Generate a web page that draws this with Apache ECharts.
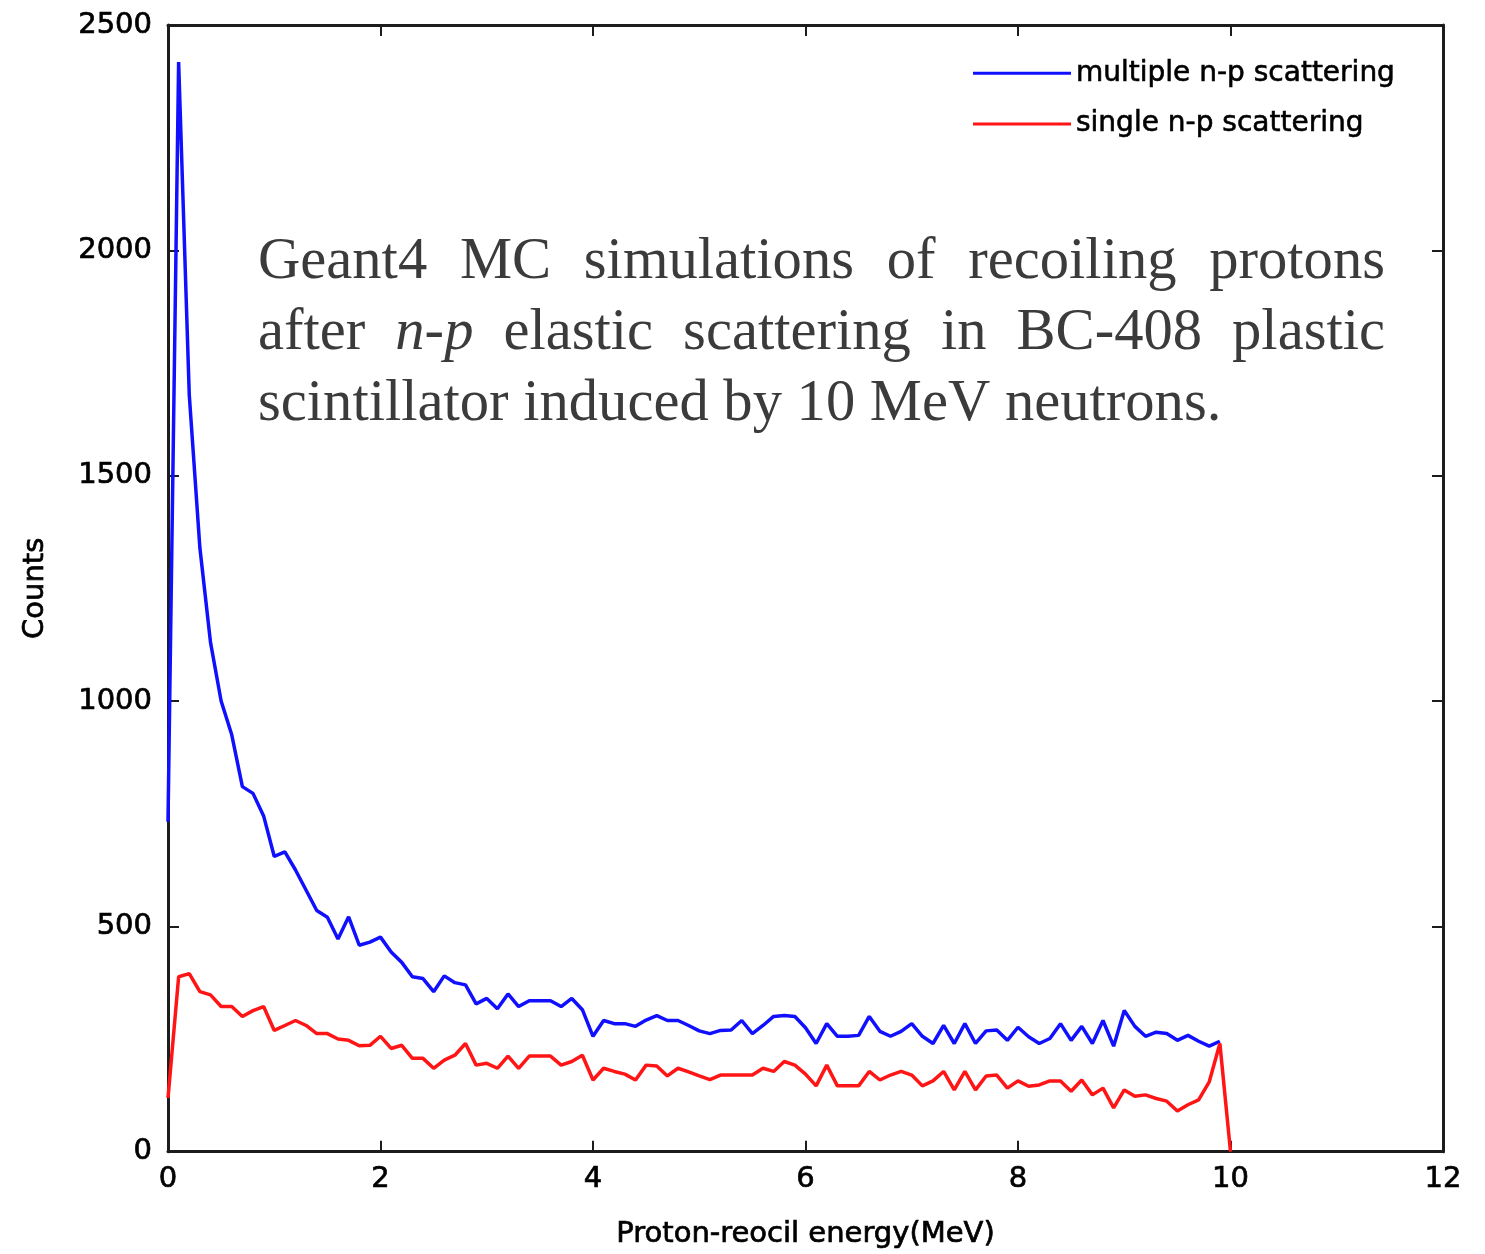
<!DOCTYPE html>
<html><head><meta charset="utf-8">
<script src="https://cdn.jsdelivr.net/npm/echarts@6/dist/echarts.min.js"></script>
<style>html,body{margin:0;padding:0;background:#fff}#c{width:1485px;height:1254px}</style>
</head><body><div id="c"></div>
<script>
// ---- data ----
const energies = [
  0.0,0.1,0.2,0.3,0.4,0.5,0.6,0.7,0.8,0.9,
  1.0,1.1,1.2,1.3,1.4,1.5,1.6,1.7,1.8,1.9,
  2.0,2.1,2.2,2.3,2.4,2.5,2.6,2.7,2.8,2.9,
  3.0,3.1,3.2,3.3,3.4,3.5,3.6,3.7,3.8,3.9,
  4.0,4.1,4.2,4.3,4.4,4.5,4.6,4.7,4.8,4.9,
  5.0,5.1,5.2,5.3,5.4,5.5,5.6,5.7,5.8,5.9,
  6.0,6.1,6.2,6.3,6.4,6.5,6.6,6.7,6.8,6.9,
  7.0,7.1,7.2,7.3,7.4,7.5,7.6,7.7,7.8,7.9,
  8.0,8.1,8.2,8.3,8.4,8.5,8.6,8.7,8.8,8.9,
  9.0,9.1,9.2,9.3,9.4,9.5,9.6,9.7,9.8,9.9,
  10.0
];
const multipleCounts = [
  732,2418,1680,1340,1130,1000,925,810,795,745,
  655,665,625,580,535,520,472,521,458,465,
  476,443,420,388,384,355,390,375,370,328,
  340,317,350,322,335,335,335,322,340,315,
  256,291,284,284,278,292,302,291,291,280,
  268,262,269,270,291,262,280,300,302,300,
  275,240,284,256,256,258,300,267,256,267,
  284,256,240,280,240,284,240,268,270,247,
  276,255,240,251,284,247,278,240,291,234,
  313,278,256,265,262,247,258,245,234,245
];
const singleCounts = [
  119,388,395,355,348,322,322,300,313,322,
  269,280,291,280,262,262,250,247,235,236,
  256,229,236,207,207,185,203,214,240,192,
  196,185,212,185,212,212,212,192,200,214,
  159,185,178,172,159,192,190,168,185,177,
  168,160,170,170,170,170,185,178,200,192,
  172,146,192,146,146,146,178,159,170,178,
  170,146,157,178,137,178,137,168,170,141,
  157,145,148,157,157,134,159,126,141,97,
  137,123,126,118,112,90,104,115,155,240,
  0
];
const seriesNames = ['multiple n-p scattering', 'single n-p scattering'];
const xRange = [0, 12], xStep = 2;
const yRange = [0, 2500], yStep = 500;
const xTitle = 'Proton-reocil energy(MeV)';
const yTitle = 'Counts';
const noteLines = [
  [{t:'Geant4'},{t:'MC'},{t:'simulations'},{t:'of'},{t:'recoiling'},{t:'protons'}],
  [{t:'after'},{t:'n-p',i:true},{t:'elastic'},{t:'scattering'},{t:'in'},{t:'BC-408'},{t:'plastic'}],
  [{t:'scintillator induced by 10 MeV neutrons.'}]
];

// ---- chart ----
const chart = echarts.init(document.getElementById('c'), null, {renderer:'canvas'});
const pairs = (vals) => vals.map((v, k) => [energies[k], v]);

const FS = 58.6, FF = '"Liberation Serif", "Times New Roman", serif';
const measure = document.createElement('canvas').getContext('2d');
function wordWidth(w) {
  measure.font = (w.i ? 'italic ' : '') + FS + 'px ' + FF;
  return measure.measureText(w.t).width;
}
const noteLeft = 258, noteRight = 1385, noteY = [263, 334, 405];
const graphics = [];
noteLines.forEach((words, li) => {
  const widths = words.map(wordWidth);
  const total = widths.reduce((a, b) => a + b, 0);
  const justify = words.length > 1;
  const gap = justify ? (noteRight - noteLeft - total) / (words.length - 1) : 0;
  let x = noteLeft;
  words.forEach((w, k) => {
    graphics.push({
      type: 'text', x: x, y: noteY[li], silent: true,
      style: {text: w.t, fontSize: FS, fontFamily: FF, fontStyle: w.i ? 'italic' : 'normal',
              fill: '#3b3b3b', verticalAlign: 'middle', align: 'left'}
    });
    x += widths[k] + gap;
  });
});

const axisCol = '#1c1c1c';
const labelFont = {fontFamily: '"DejaVu Sans", sans-serif', fontSize: 29, color: '#000',
                   textBorderColor: '#000', textBorderWidth: 0.7};
function xAxisCfg(pos, labels) {
  return {
    type: 'value', position: pos, min: xRange[0], max: xRange[1], interval: xStep,
    axisLine: {show: true, onZero: false, lineStyle: {color: axisCol, width: 3}},
    axisTick: {show: true, inside: true, length: 11, lineStyle: {color: axisCol, width: 2}},
    axisLabel: Object.assign({show: labels, margin: 13, formatter: (v) => String(v)}, labelFont),
    splitLine: {show: false},
    name: labels ? xTitle : '', nameLocation: 'middle', nameGap: 68,
    nameTextStyle: labelFont
  };
}
function yAxisCfg(pos, labels) {
  return {
    type: 'value', position: pos, min: yRange[0], max: yRange[1], interval: yStep,
    axisLine: {show: true, onZero: false, lineStyle: {color: axisCol, width: 3}},
    axisTick: {show: true, inside: true, length: 11, lineStyle: {color: axisCol, width: 2}},
    axisLabel: Object.assign({show: labels, margin: 16, formatter: (v) => String(v)}, labelFont),
    splitLine: {show: false},
    name: labels ? yTitle : '', nameLocation: 'middle', nameGap: 118,
    nameTextStyle: labelFont
  };
}

chart.setOption({
  animation: false,
  backgroundColor: '#ffffff',
  grid: {left: 168, right: 42, top: 25, bottom: 95, containLabel: false},
  xAxis: [xAxisCfg('bottom', true), xAxisCfg('top', false)],
  yAxis: [yAxisCfg('left', true), yAxisCfg('right', false)],
  legend: {
    orient: 'vertical', left: 968, top: 54,
    icon: 'rect', itemWidth: 98, itemHeight: 3, itemGap: 22,
    textStyle: {fontFamily: '"DejaVu Sans", sans-serif', fontSize: 28, color: '#000',
                textBorderColor: '#000', textBorderWidth: 0.6},
    data: seriesNames
  },
  series: [
    {name: seriesNames[0], type: 'line', xAxisIndex: 0, yAxisIndex: 0, data: pairs(multipleCounts),
     symbol: 'none', lineStyle: {color: '#1010ff', width: 3.5}, itemStyle: {color: '#1010ff'}},
    {name: seriesNames[1], type: 'line', xAxisIndex: 0, yAxisIndex: 0, data: pairs(singleCounts),
     symbol: 'none', lineStyle: {color: '#ff1515', width: 3.5}, itemStyle: {color: '#ff1515'}}
  ],
  graphic: graphics
});
</script>
</body></html>
